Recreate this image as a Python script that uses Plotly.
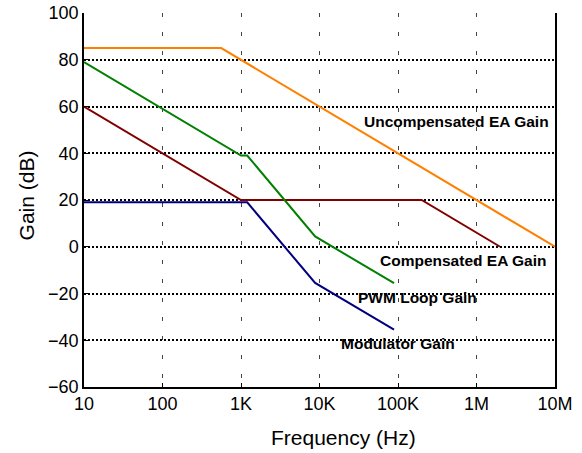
import plotly.graph_objects as go

# ---- data ----
freq_unc = [10, 560, 1e7]
gain_unc = [85, 85, 0]

freq_comp = [10, 1000, 200000, 2000000]
gain_comp = [60, 20, 20, 0]

freq_pwm = [10, 1000, 1200, 8800, 89000]
gain_pwm = [79, 39, 39, 4.4, -15.6]

freq_mod = [10, 1200, 8800, 89000]
gain_mod = [19, 19, -15.5, -35.5]

x_tickvals = [10, 100, 1e3, 1e4, 1e5, 1e6, 1e7]
x_ticktext = ["10", "100", "1K", "10K", "100K", "1M", "10M"]
y_tickvals = [-60, -40, -20, 0, 20, 40, 60, 80, 100]

labels = ["Uncompensated EA Gain", "Compensated EA Gain", "PWM Loop Gain", "Modulator Gain"]
label_x = [5.745, 5.834, 5.248, 5.006]   # log10 positions
label_y = [53.4, -5.7, -21.9, -41.2]

fig = go.Figure()
series = [
    (freq_unc, gain_unc, "#FF8000"),
    (freq_comp, gain_comp, "#800000"),
    (freq_pwm, gain_pwm, "#008000"),
    (freq_mod, gain_mod, "#000080"),
]
for fx, gy, col in series:
    fig.add_trace(go.Scatter(x=fx, y=gy, mode="lines",
                             line=dict(color=col, width=2), showlegend=False,
                             hoverinfo="skip"))

for t, lx, ly in zip(labels, label_x, label_y):
    fig.add_annotation(x=lx, y=ly, xref="x", yref="y", text="<b>%s</b>" % t,
                       showarrow=False, xanchor="center", yanchor="middle",
                       font=dict(family="Liberation Sans, Arial", size=15.5, color="black"))

fig.add_annotation(x=0.551, y=-0.135, xref="paper", yref="paper",
                   text="Frequency (Hz)", showarrow=False,
                   xanchor="center", yanchor="middle",
                   font=dict(family="Liberation Sans, Arial", size=21, color="black"))
fig.add_annotation(x=-0.122, y=0.511, xref="paper", yref="paper",
                   text="Gain (dB)", showarrow=False, textangle=-90,
                   xanchor="center", yanchor="middle",
                   font=dict(family="Liberation Sans, Arial", size=21, color="black"))

fig.update_layout(
    width=582, height=453,
    margin=dict(l=84, r=27, t=13, b=66, autoexpand=False),
    plot_bgcolor="white", paper_bgcolor="white",
    font=dict(family="Liberation Sans, Arial", size=18, color="black"),
    xaxis=dict(type="log", range=[1, 7], tickvals=x_tickvals, ticktext=x_ticktext,
               showgrid=True, gridcolor="#444444", gridwidth=1.2, griddash="4px,15px",
               showline=True, linecolor="black", linewidth=1.5, automargin=False,
               ticks="inside", ticklen=4, tickcolor="black", zeroline=False,
               tickfont=dict(size=18)),
    yaxis=dict(range=[-60, 100], tickvals=y_tickvals,
               showgrid=True, gridcolor="black", gridwidth=1.8, griddash="2px,2px",
               showline=True, linecolor="black", linewidth=1.5, mirror=True, automargin=False,
               ticks="inside", ticklen=4, tickcolor="black", zeroline=False,
               tickfont=dict(size=18)),
)

fig.write_html("out.html", config={"displayModeBar": False},
               post_script="document.body.style.margin='0';document.body.style.overflow='hidden';")
